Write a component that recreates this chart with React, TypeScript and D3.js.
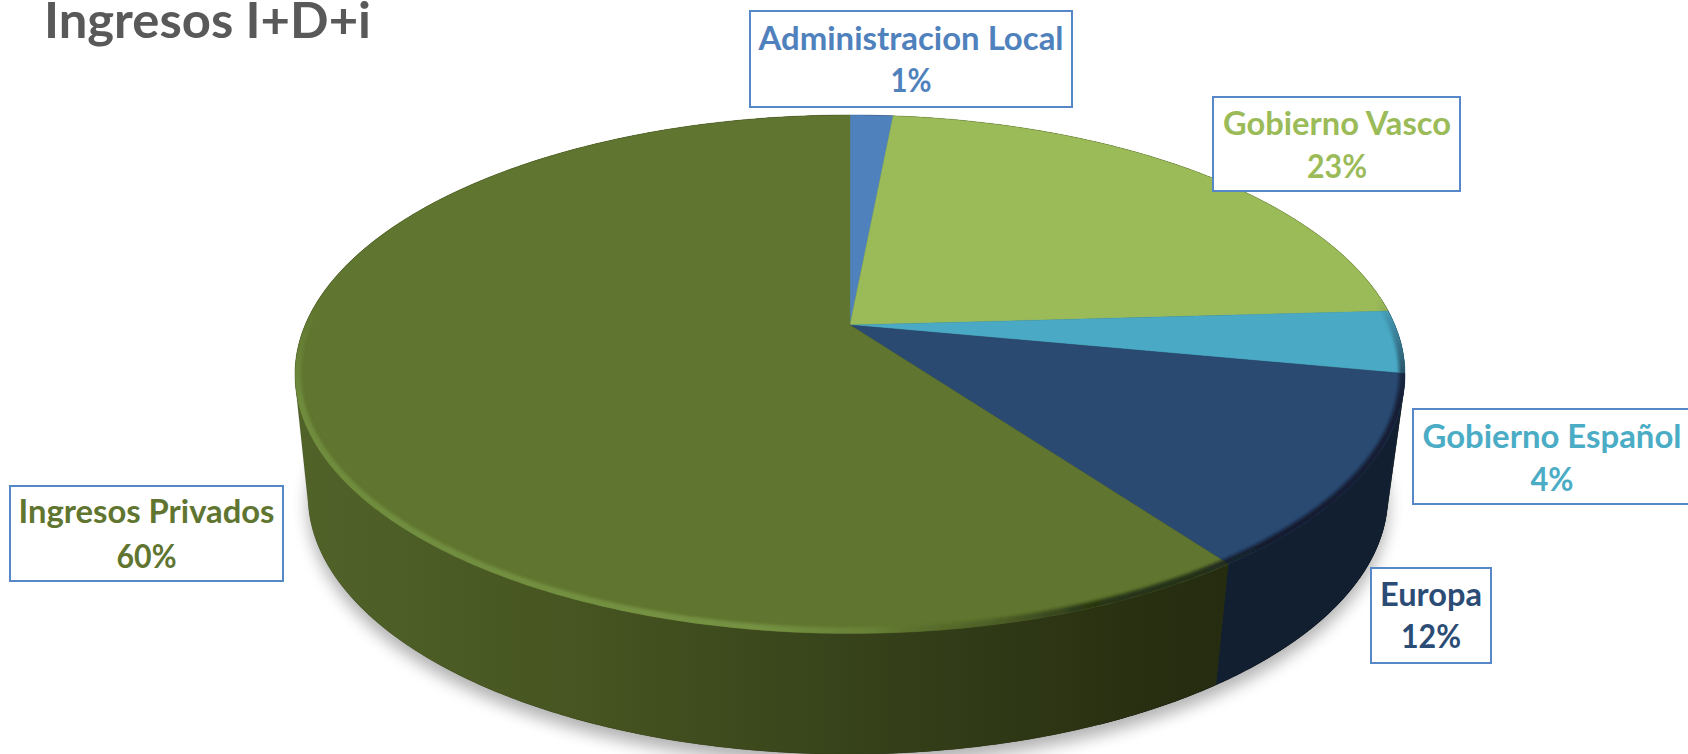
import React from "react";
import * as d3 from "d3";

const categories = ["Administracion Local", "Gobierno Vasco", "Gobierno Español", "Europa", "Ingresos Privados"];
const values = [1.5, 22.6, 3.9, 12, 60];
const percentLabels = ["1%", "23%", "4%", "12%", "60%"];
const faceColors = ["#4f81bd", "#9bbb59", "#4aa9c4", "#2a4a72", "#60752f"];
const textColors = ["#4f81bd", "#9bbb59", "#4bacc6", "#2b4c75", "#5f7530"];
const sideFills = ["#2a4466", "#52662f", "#1d3f4c", "#121f30", "url(#privSide)"];

const W = 1688;
const H = 754;
const k = 0.19;
const topDisc = { x0: 850, y0: 325, rx: 555, up: 210 };
const bottomDisc = { x0: 848, y0: 446.5, rx: 540, up: 209.5 };

type Disc = typeof topDisc;
const project = (d: Disc, a: number): [number, number] => {
  const u = Math.sin(a);
  const v = -Math.cos(a);
  const w = 1 - k * v;
  return [
    d.x0 + (d.rx * Math.sqrt(1 - k * k) * u) / w,
    d.y0 + (d.up * (1 + k) * v) / w,
  ];
};
const arcPoints = (d: Disc, a0: number, a1: number): [number, number][] => {
  const n = Math.max(2, Math.ceil(Math.abs(a1 - a0) / 0.01));
  return d3.range(n + 1).map((i) => project(d, a0 + ((a1 - a0) * i) / n));
};

const line = d3.line<[number, number]>().x((p) => p[0]).y((p) => p[1]);
const slices = d3.pie<number>().sort(null).startAngle(0).endAngle(2 * Math.PI)(values);
const closed = (pts: [number, number][]) => (line(pts) || "") + "Z";
const FULL = 2 * Math.PI;
const hull = d3.polygonHull([
  ...arcPoints(topDisc, 0, FULL),
  ...arcPoints(bottomDisc, 0, FULL),
]) as [number, number][];

const rad = (deg: number) => (deg * Math.PI) / 180;

const boxes = [
  { x0: 750, x1: 1072, y0: 11, y1: 107, cx: 911, b1: 50, b2: 92, w1: 305, w2: 41 },
  { x0: 1213, x1: 1460, y0: 97, y1: 191, cx: 1337, b1: 135, b2: 178, w1: 228, w2: 60 },
  { x0: 1413, x1: 1692, y0: 409, y1: 504, cx: 1552, b1: 448, b2: 491, w1: 259, w2: 43 },
  { x0: 1371, x1: 1491, y0: 568, y1: 663, cx: 1431, b1: 606, b2: 648, w1: 102, w2: 60 },
  { x0: 10, x1: 283, y0: 486, y1: 581, cx: 146.5, b1: 523, b2: 568, w1: 256, w2: 60 },
];

const FONT = "Lato, Carlito, Calibri, sans-serif";

export default function App() {
  return (
    <svg
      width={W}
      height={H}
      viewBox={`0 0 ${W} ${H}`}
      style={{ position: "absolute", left: 0, top: 0, display: "block", background: "#fff" }}
    >
      <defs>
        <linearGradient id="privSide" gradientUnits="userSpaceOnUse" x1="300" x2="1225" y1="0" y2="0">
          <stop offset="0" stopColor="#516229" />
          <stop offset="0.3" stopColor="#465521" />
          <stop offset="0.65" stopColor="#343f19" />
          <stop offset="0.95" stopColor="#272d10" />
          <stop offset="1" stopColor="#262c10" />
        </linearGradient>
        <linearGradient id="rim" gradientUnits="userSpaceOnUse" x1="295" x2="1405" y1="0" y2="0">
          <stop offset="0" stopColor="#6f8c3d" stopOpacity="1" />
          <stop offset="0.42" stopColor="#759243" stopOpacity="1" />
          <stop offset="0.52" stopColor="#6f8c3d" stopOpacity="0.5" />
          <stop offset="0.6" stopColor="#3a4a1c" stopOpacity="0.3" />
          <stop offset="0.72" stopColor="#101808" stopOpacity="0.7" />
          <stop offset="0.9" stopColor="#0c1420" stopOpacity="0.8" />
          <stop offset="1" stopColor="#0c1420" stopOpacity="0.75" />
        </linearGradient>
        <linearGradient id="rimFade" gradientUnits="userSpaceOnUse" x1="0" x2="0" y1="300" y2="400">
          <stop offset="0" stopColor="#000" />
          <stop offset="1" stopColor="#fff" />
        </linearGradient>
        <mask id="rimMask" maskUnits="userSpaceOnUse" x="0" y="0" width={W} height={H}>
          <rect width={W} height={H} fill="url(#rimFade)" />
        </mask>
        <filter id="shadowBlur" x="-10%" y="-10%" width="120%" height="120%">
          <feGaussianBlur stdDeviation="8" />
        </filter>
        <filter id="rimBlur" x="-5%" y="-5%" width="110%" height="110%">
          <feGaussianBlur stdDeviation="1.8" />
        </filter>
        <clipPath id="faceClip">
          <path d={closed(arcPoints(topDisc, 0, FULL))} />
        </clipPath>
        <clipPath id="hullClip">
          <path d={closed(hull)} />
        </clipPath>
      </defs>

      <rect width={W} height={H} fill="#fff" />

      <path
        d={closed(arcPoints(bottomDisc, 0, FULL))}
        transform="translate(0,10)"
        fill="#000"
        opacity={0.3}
        filter="url(#shadowBlur)"
      />

      <path d={closed(hull)} fill="url(#privSide)" />
      <g clipPath="url(#hullClip)">
        <rect x={1100} y={300} width={320} height={454} fill="#121f30" />
      </g>

      <g>
        {slices.map((s, i) => (
          <path
            key={categories[i]}
            d={closed([
              ...arcPoints(topDisc, s.startAngle, s.endAngle),
              ...arcPoints(bottomDisc, s.endAngle, s.startAngle),
            ])}
            fill={sideFills[i]}
          />
        ))}
      </g>

      <g>
        {slices.map((s, i) => (
          <path
            key={categories[i]}
            d={closed([[topDisc.x0, topDisc.y0], ...arcPoints(topDisc, s.startAngle, s.endAngle)])}
            fill={faceColors[i]}
            stroke={faceColors[i]}
            strokeWidth={0.4}
          />
        ))}
      </g>

      <g clipPath="url(#faceClip)">
        <g mask="url(#rimMask)">
          <path
            d={line(arcPoints(topDisc, rad(70), rad(295))) || ""}
            fill="none"
            stroke="url(#rim)"
            strokeWidth={12}
            filter="url(#rimBlur)"
          />
        </g>
      </g>

      <path d={closed(hull)} fill="none" stroke="#000" strokeOpacity={0.12} strokeWidth={0.8} />

      <text x={44} y={38} fontFamily={FONT} fontWeight={700} fontSize={50} fill="#595959" textLength={327} lengthAdjust="spacingAndGlyphs">
        Ingresos I+D+i
      </text>

      {categories.map((c, i) => {
        const b = boxes[i];
        return (
          <g key={c} fontFamily={FONT} fontWeight={700} fontSize={32} textAnchor="middle" fill={textColors[i]}>
            <rect
              x={b.x0}
              y={b.y0}
              width={b.x1 - b.x0}
              height={b.y1 - b.y0}
              fill="#fff"
              stroke="#5687c6"
              strokeWidth={2}
            />
            <text x={b.cx} y={b.b1} textLength={b.w1} lengthAdjust="spacingAndGlyphs">{c}</text>
            <text x={b.cx} y={b.b2} textLength={b.w2} lengthAdjust="spacingAndGlyphs">{percentLabels[i]}</text>
          </g>
        );
      })}
    </svg>
  );
}
